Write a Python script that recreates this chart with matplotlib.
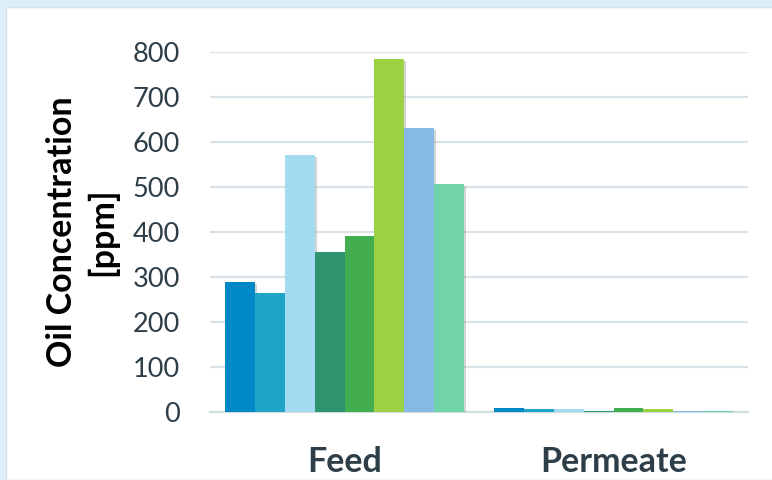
import matplotlib
matplotlib.use("Agg")
import matplotlib.pyplot as plt
import matplotlib.patheffects as pe
import numpy as np
from matplotlib.patches import Rectangle

plt.rcParams["font.family"] = ["Lato", "DejaVu Sans"]

categories = ["Feed", "Permeate"]
# eight samples per category, in drawing order
feed = [288, 265, 571, 355, 391, 785, 631, 506]
permeate = [8, 5, 5, 1, 9, 5, 2, 1]
colors = ["#0089C7", "#21A5C7", "#A5DAF3", "#2E946E",
          "#43AE50", "#9BD142", "#86B9E5", "#71D3AA"]
yticks = [0, 100, 200, 300, 400, 500, 600, 700, 800]

fig = plt.figure(figsize=(7.72, 4.8), dpi=100)
fig.patch.set_facecolor("#DCEEF8")
# white panel with a light blue margin on the top and left
fig.patches.append(Rectangle((6 / 772, 0), 1, 1 - 7 / 480, transform=fig.transFigure,
                             facecolor="white", edgecolor="#D6E3EA", lw=1.0, zorder=-10))

ax = fig.add_axes([210 / 772, 1 - 411.7 / 480, 538 / 772, 359.4 / 480])
ax.set_facecolor("none")

n = len(feed)
group = 0.889
w = group / n
x = np.arange(len(categories))
series = np.array([feed, permeate]).T
shadow = [pe.SimplePatchShadow(offset=(1.5, -1.5), shadow_rgbFace="#888888", alpha=0.35),
          pe.Normal()]
for i in range(n):
    offs = x - group / 2 + w * (i + 0.5)
    bars = ax.bar(offs, series[i], width=w, color=colors[i], zorder=3)
    for b in bars:
        b.set_path_effects(shadow)

ax.set_xlim(-0.5, 1.5)
ax.set_ylim(0, 800)
ax.set_yticks(yticks)
ax.set_yticklabels([str(t) for t in yticks], fontsize=19.5, color="#2E3E48")
ax.set_xticks(x)
ax.set_xticklabels(categories, fontsize=24.5, fontweight="bold", color="#2E3E48")
ax.tick_params(axis="both", length=0)
ax.tick_params(axis="y", pad=21.5)
ax.tick_params(axis="x", pad=25)
ax.grid(axis="y", color="#D9E2E6", lw=1.6, zorder=0)
for s in ["top", "right", "left"]:
    ax.spines[s].set_visible(False)
ax.spines["bottom"].set_color("#D0DEE2")
ax.spines["bottom"].set_linewidth(1.6)

ax.set_ylabel("Oil Concentration\n[ppm]", fontsize=24.5, fontweight="bold",
              color="black", linespacing=1.3)
ax.yaxis.set_label_coords(-0.17, 0.5)

fig.savefig("out.png", dpi=100, facecolor=fig.get_facecolor())
